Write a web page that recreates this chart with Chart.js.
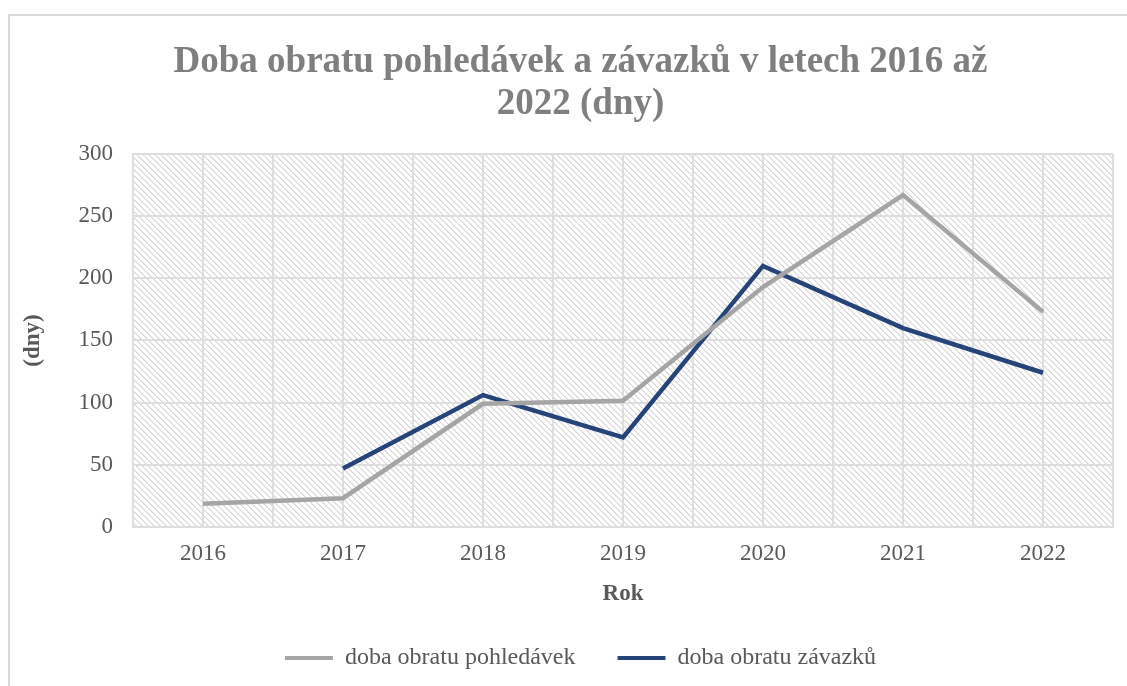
<!DOCTYPE html>
<html>
<head>
<meta charset="utf-8">
<script src="https://cdn.jsdelivr.net/npm/chart.js@4"></script>
<style>
  html, body { margin: 0; padding: 0; background: #fff; overflow: hidden; }
  #wrap { position: relative; width: 1127px; height: 686px; }
  #frame { position: absolute; left: 8px; top: 14px; width: 1200px; height: 800px;
           border: 2px solid #d9d9d9; box-sizing: border-box; pointer-events: none; }
  canvas { position: absolute; left: 0; top: 0; }
</style>
</head>
<body>
<div id="wrap">
  <canvas id="chart" width="1127" height="686"></canvas>
  <div id="frame"></div>
</div>
<script>
const years = ["2016", "2017", "2018", "2019", "2020", "2021", "2022"];
const receivables = [18.5, 23, 99, 101.5, 193, 267, 173];
const payables = [null, 47, 106, 72, 210, 160, 124];
const yMin = 0;
const yMax = 300;
const yStep = 50;

const serif = "'Liberation Serif', 'Times New Roman', serif";
const textColor = "#595959";
const gridColor = "#dedede";

// hatched fill of the plot area
const makeHatch = (ctx) => {
  const tile = document.createElement("canvas");
  tile.width = 6;
  tile.height = 6;
  const t = tile.getContext("2d");
  t.fillStyle = "#ffffff";
  t.fillRect(0, 0, 6, 6);
  for (let i = 0; i < 6; i++) {
    t.fillStyle = "#d6d6d6";
    t.fillRect(i, i, 1, 1);
    t.fillStyle = "#ebebeb";
    t.fillRect((i + 1) % 6, i, 1, 1);
  }
  return ctx.createPattern(tile, "repeat");
};

const plotBackground = {
  id: "plotBackground",
  beforeDraw(chart) {
    const { ctx, chartArea, scales } = chart;
    const { left, top, right, bottom } = chartArea;
    ctx.save();
    ctx.fillStyle = makeHatch(ctx);
    ctx.fillRect(left, top, right - left, bottom - top);
    // vertical lines at category centres too
    ctx.strokeStyle = gridColor;
    ctx.lineWidth = 2;
    years.forEach((y, i) => {
      const px = Math.round(scales.x.getPixelForValue(i));
      ctx.beginPath();
      ctx.moveTo(px, top);
      ctx.lineTo(px, bottom);
      ctx.stroke();
    });
    ctx.restore();
  },
};

const ctx = document.getElementById("chart").getContext("2d");

new Chart(ctx, {
  type: "line",
  data: {
    labels: years,
    datasets: [
      {
        label: "doba obratu pohledávek",
        data: receivables,
        borderColor: "#a5a5a5",
        backgroundColor: "#a5a5a5",
        borderWidth: 4.5,
        pointRadius: 0,
        tension: 0,
      },
      {
        label: "doba obratu závazků",
        data: payables,
        borderColor: "#264478",
        backgroundColor: "#264478",
        borderWidth: 4.5,
        pointRadius: 0,
        tension: 0,
      },
    ],
  },
  options: {
    responsive: false,
    animation: false,
    layout: { padding: { left: 48, right: 14, top: 0, bottom: 6 } },
    plugins: {
      title: {
        display: true,
        text: ["Doba obratu pohledávek a závazků v letech 2016 až", "2022 (dny)"],
        color: "#7f7f7f",
        font: { family: serif, size: 37, weight: "bold", lineHeight: 1.15 },
        padding: { top: 41, bottom: 28 },
      },
      legend: {
        position: "bottom",
        labels: {
          color: textColor,
          font: { family: serif, size: 24 },
          boxWidth: 48,
          boxHeight: 4,
          padding: 42,
          generateLabels: function (chart) {
            return Chart.defaults.plugins.legend.labels
              .generateLabels(chart)
              .map((l) => ({ ...l, fillStyle: l.strokeStyle, lineWidth: 0 }));
          },
        },
      },
      tooltip: { enabled: false },
    },
    scales: {
      x: {
        offset: true,
        grid: { offset: true, color: gridColor, lineWidth: 2, drawTicks: false },
        border: { color: gridColor, width: 2 },
        ticks: { color: textColor, font: { family: serif, size: 23 }, padding: 13 },
        title: {
          display: true,
          text: "Rok",
          color: textColor,
          font: { family: serif, size: 23, weight: "bold" },
          padding: { top: 0, bottom: -4 },
        },
      },
      y: {
        min: yMin,
        max: yMax,
        ticks: { stepSize: yStep, color: textColor, font: { family: serif, size: 23 }, padding: 20 },
        grid: { color: gridColor, lineWidth: 2, drawTicks: false },
        border: { color: gridColor, width: 2 },
        title: {
          display: true,
          text: "(dny)",
          color: textColor,
          font: { family: serif, size: 23, weight: "bold" },
          padding: { top: -29, bottom: 0 },
        },
        afterFit: function (scale) {
          scale.width = 133 - 48;
        },
      },
    },
  },
  plugins: [plotBackground],
});
</script>
</body>
</html>
